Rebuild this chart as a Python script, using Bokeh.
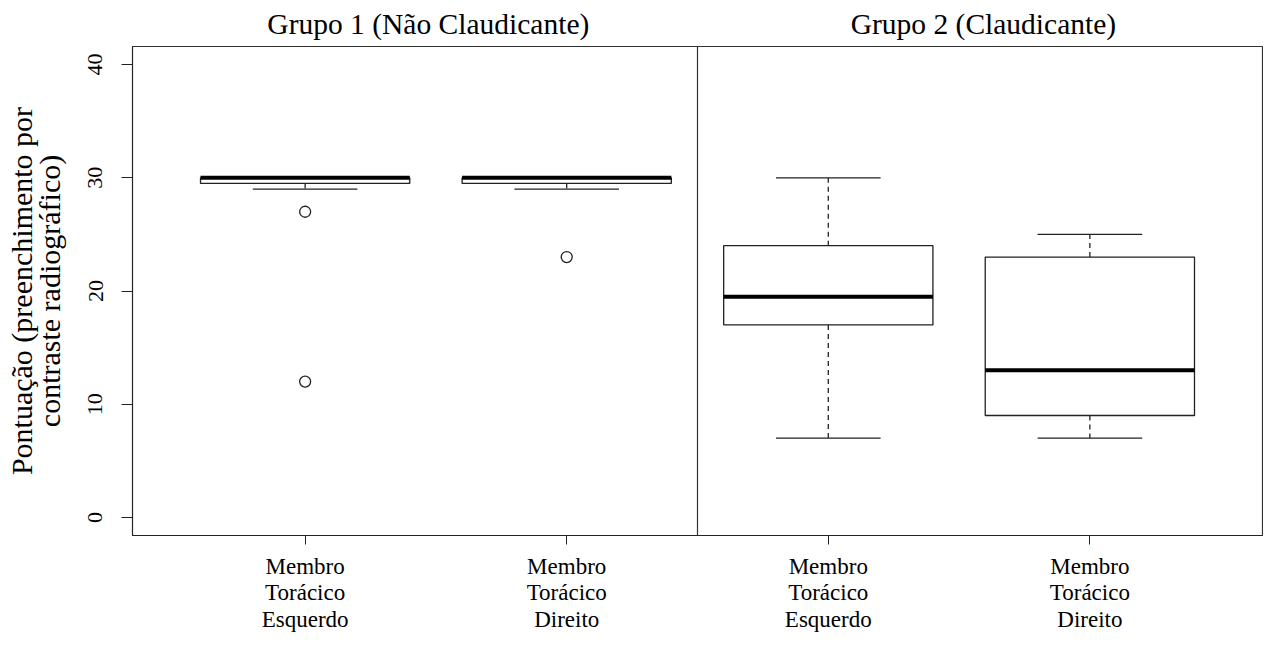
from bokeh.plotting import figure
from bokeh.models import FixedTicker, Span, Range1d, LinearAxis
from bokeh.embed import file_html
from bokeh.resources import INLINE

# ---- data ----
group_titles = ["Grupo 1 (Não Claudicante)", "Grupo 2 (Claudicante)"]
box_labels = ["Membro\nTorácico\nEsquerdo", "Membro\nTorácico\nDireito",
              "Membro\nTorácico\nEsquerdo", "Membro\nTorácico\nDireito"]
lower_whisker = [29, 29, 7, 7]
q1 = [29.5, 29.5, 17, 9]
median = [30, 30, 19.5, 13]
q3 = [30, 30, 24, 23]
upper_whisker = [30, 30, 30, 25]
outlier_box = [1, 1, 2]
outlier_value = [27, 12, 23]
y_ticks = [0, 10, 20, 30, 40]
y_label = "Pontuação (preenchimento por\ncontraste radiográfico)"

FONT = "Liberation Serif"
LINE = "#222222"

xs = [i + 1 for i in range(len(q1))]
half = 0.4
cap = 0.2

p = figure(width=1263, height=634, output_backend="svg", toolbar_location=None,
           x_range=Range1d(0.34, 4.66), y_range=Range1d(-1.6, 41.6),
           min_border_left=132, min_border_right=1, min_border_top=46, min_border_bottom=90)
p.background_fill_color = "white"
p.border_fill_color = "white"
p.outline_line_color = "#333333"
p.outline_line_width = 1.2
p.xgrid.visible = False
p.ygrid.visible = False

# whiskers (dashed)
p.segment(x0=xs, y0=q3, x1=xs, y1=upper_whisker, line_color=LINE, line_width=1.3, line_dash="5 4")
p.segment(x0=xs, y0=q1, x1=xs, y1=lower_whisker, line_color=LINE, line_width=1.3, line_dash="5 4")
# caps
p.segment(x0=[x - cap for x in xs], y0=upper_whisker, x1=[x + cap for x in xs], y1=upper_whisker,
          line_color=LINE, line_width=1.3)
p.segment(x0=[x - cap for x in xs], y0=lower_whisker, x1=[x + cap for x in xs], y1=lower_whisker,
          line_color=LINE, line_width=1.3)
# boxes
p.vbar(x=xs, width=2 * half, bottom=q1, top=q3, fill_color="white", line_color=LINE, line_width=1.3)
# medians
p.segment(x0=[x - half for x in xs], y0=median, x1=[x + half for x in xs], y1=median,
          line_color="black", line_width=4)
# outliers
p.scatter(x=outlier_box, y=outlier_value, marker="circle", size=11, fill_color="white",
          line_color=LINE, line_width=1.3)

# divider between groups
p.add_layout(Span(location=2.5, dimension="height", line_color="#333333", line_width=1.2))

# bottom axis
p.xaxis.ticker = FixedTicker(ticks=xs)
p.xaxis.major_label_overrides = {x: lab for x, lab in zip(xs, box_labels)}
p.xaxis.minor_tick_line_color = None
p.xaxis.major_tick_in = 0
p.xaxis.major_tick_out = 9
p.xaxis.major_label_standoff = 9
p.xaxis.major_label_text_font = FONT
p.xaxis.major_label_text_font_size = "23px"
p.xaxis.major_label_text_color = "black"
p.xaxis.major_label_text_line_height = 1.06
p.xaxis.axis_line_color = LINE
p.xaxis.major_tick_line_color = LINE

# left axis
p.yaxis.ticker = FixedTicker(ticks=y_ticks)
p.yaxis.minor_tick_line_color = None
p.yaxis.major_tick_in = 0
p.yaxis.major_tick_out = 11
p.yaxis.major_label_standoff = 19
p.yaxis.major_label_orientation = "vertical"
p.yaxis.major_label_text_font = FONT
p.yaxis.major_label_text_font_size = "22px"
p.yaxis.major_label_text_color = "black"
p.yaxis.axis_line_color = LINE
p.yaxis.major_tick_line_color = LINE
p.yaxis.axis_label = y_label
p.yaxis.axis_label_text_font = FONT
p.yaxis.axis_label_text_font_size = "30px"
p.yaxis.axis_label_text_font_style = "normal"
p.yaxis.axis_label_text_color = "black"
p.yaxis.axis_label_text_line_height = 0.82
p.yaxis.axis_label_standoff = 20

# group titles as a top axis
title_pos = [1.471, 3.593]
top = LinearAxis(ticker=FixedTicker(ticks=title_pos),
                 major_label_overrides={t: g for t, g in zip(title_pos, group_titles)})
top.axis_line_color = None
top.major_tick_line_color = None
top.minor_tick_line_color = None
top.major_tick_out = 0
top.major_tick_in = 0
top.major_label_standoff = 7
top.major_label_text_font = FONT
top.major_label_text_font_size = "29.5px"
top.major_label_text_color = "black"
p.add_layout(top, "above")

open("out.html", "w").write(file_html(p, INLINE))
